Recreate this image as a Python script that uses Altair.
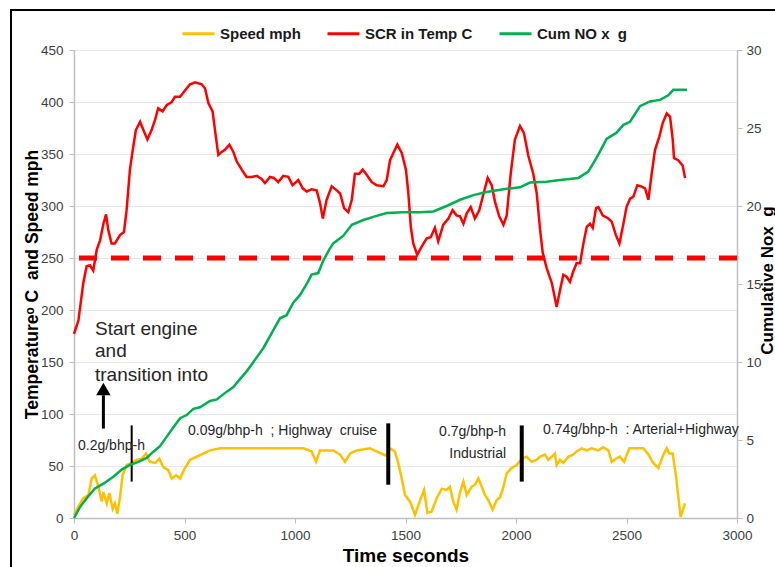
import altair as alt
import pandas as pd

# ---------------- data ----------------
speed_t = [0, 20, 42, 65, 80, 95, 110, 125, 133, 148, 160, 175, 185, 196, 208, 220, 238, 261, 284, 306,
           326, 344, 367, 386, 404, 427, 442, 462, 480, 502, 525, 555, 585, 615, 661, 736, 827, 917, 1038,
           1075, 1095, 1113, 1173, 1204, 1226, 1249, 1279, 1339, 1392, 1412, 1430, 1452, 1467, 1483, 1498,
           1520, 1543, 1566, 1584, 1599, 1618, 1641, 1664, 1686, 1701, 1716, 1731, 1747, 1762, 1777, 1799,
           1814, 1830, 1845, 1860, 1875, 1894, 1912, 1928, 1943, 1958, 1980, 2003, 2026, 2048, 2071, 2094,
           2109, 2131, 2146, 2162, 2176, 2184, 2199, 2214, 2237, 2259, 2274, 2297, 2320, 2342, 2373, 2395,
           2418, 2433, 2452, 2470, 2489, 2513, 2546, 2576, 2599, 2621, 2644, 2667, 2682, 2694, 2709, 2724,
           2734, 2745, 2757, 2765]
speed_v = [3, 11, 19, 22, 38, 41, 30, 16, 25, 14, 24, 9, 14, 4, 20, 41, 51, 53, 56, 57,
           62, 54, 53, 57, 49, 46, 38, 41, 38, 48, 56, 59, 62, 65, 67, 67, 67, 67, 67,
           64, 54, 65, 65, 61, 54, 62, 65, 67, 62, 60, 67, 64, 53, 38, 22,
           16, 3, 17, 27, 5, 6, 19, 28, 27, 30, 16, 8, 25, 35, 22, 30,
           32, 38, 30, 22, 17, 8, 17, 20, 30, 43, 48, 51, 57, 59, 54, 56,
           59, 61, 56, 59, 62, 51, 56, 53, 59, 61, 64, 67, 65, 67, 65, 68,
           65, 54, 57, 59, 54, 67, 67, 67, 61, 53, 48, 61, 67, 62, 62, 40,
           21, 1, 9, 14]

temp_t = [0, 20, 42, 57, 72, 87, 103, 118, 133, 145, 155, 170, 185, 208, 226, 238, 253, 268, 280, 299,
          314, 332, 351, 367, 381, 401, 419, 442, 457, 480, 502, 525, 548, 578, 593, 608, 627, 638, 653,
          668, 683, 703, 721, 736, 759, 781, 804, 827, 849, 864, 887, 905, 924, 947, 970, 989, 1015, 1035,
          1053, 1075, 1098, 1113, 1126, 1143, 1166, 1189, 1204, 1222, 1241, 1257, 1271, 1291, 1306, 1324,
          1347, 1370, 1400, 1415, 1430, 1445, 1463, 1483, 1502, 1513, 1524, 1535, 1553, 1573, 1596, 1614,
          1633, 1648, 1671, 1694, 1713, 1731, 1747, 1762, 1777, 1795, 1814, 1834, 1852, 1872, 1890, 1905,
          1924, 1943, 1958, 1976, 1995, 2018, 2036, 2056, 2078, 2094, 2109, 2121, 2139, 2162, 2184, 2199,
          2214, 2229, 2244, 2259, 2274, 2290, 2305, 2320, 2335, 2347, 2362, 2373, 2392, 2418, 2433, 2452,
          2468, 2486, 2500, 2516, 2531, 2549, 2564, 2584, 2599, 2614, 2629, 2649, 2664, 2682, 2697, 2709,
          2715, 2734, 2754, 2765]
temp_v = [177, 190, 226, 242, 243, 238, 258, 267, 283, 292, 277, 264, 264, 272, 275, 296, 335, 357, 373, 381,
          373, 364, 373, 383, 394, 391, 397, 400, 405, 405, 411, 417, 419, 417, 413, 399, 391, 373, 349,
          352, 354, 359, 352, 343, 335, 328, 328, 329, 326, 322, 328, 327, 323, 329, 328, 320, 325, 317,
          314, 316, 315, 303, 288, 306, 319, 315, 312, 298, 294, 306, 331, 331, 335, 330,
          323, 320, 319, 325, 344, 351, 359, 351, 335, 312, 280, 264, 253, 261, 269, 270,
          279, 266, 282, 288, 296, 291, 290, 283, 293, 299, 288, 296, 311, 327, 320, 304,
          290, 282, 291, 331, 364, 377, 370, 348, 331, 312, 277, 255, 240, 226, 203, 219,
          234, 232, 227, 237, 245, 245, 264, 280, 283, 279, 298, 299, 291, 288, 285, 272,
          264, 283, 299, 307, 309, 320, 319, 317, 306, 331, 354, 367, 380, 389, 386, 364,
          346, 344, 339, 327]

nox_t = [0, 27, 65, 95, 133, 178, 216, 253, 291, 329, 359, 389, 419, 449, 480, 510, 540, 570, 615, 646,
         691, 721, 751, 781, 812, 842, 857, 902, 932, 962, 992, 1023, 1053, 1075, 1105, 1128, 1155, 1173,
         1219, 1257, 1309, 1354, 1415, 1490, 1566, 1626, 1686, 1747, 1807, 1867, 1958, 2018, 2063, 2139,
         2191, 2282, 2327, 2365, 2410, 2455, 2486, 2516, 2561, 2606, 2652, 2689, 2712, 2774]
nox_v = [0, 0.7, 1.4, 1.9, 2.2, 2.65, 3.1, 3.4, 3.6, 3.85, 4.25, 4.6, 5.2, 5.8, 6.4, 6.6, 7.0, 7.1, 7.5, 7.6,
         8.1, 8.4, 8.9, 9.4, 10.0, 10.6, 10.9, 12.05, 12.8, 13.0, 13.8, 14.3, 15.0, 15.6, 15.7, 16.5, 17.2, 17.6,
         18.1, 18.8, 19.1, 19.3, 19.55, 19.6, 19.6, 19.65, 20.0, 20.4, 20.7, 20.9, 21.1, 21.2, 21.5, 21.55,
         21.65, 21.8, 22.2, 23.1, 24.3, 24.7, 25.2, 25.4, 26.4, 26.7, 26.8, 27.1, 27.45, 27.45]

NB = "\u00a0"
series_names = ["Speed mph", "SCR in Temp C", "Cum NO x" + NB + " g"]
series_colors = ["#FFC000", "#FF0000", "#00B050"]

threshold_temp = [250]

bar_t = [261, 1422, 2026]
bar_lo = [35, 32, 35]
bar_hi = [89, 91, 89]
bar_w = [2, 4, 4]

note_left_text = ["0.2g/bhp-h", "0.09g/bhp-h" + NB + " ; Highway" + NB + " cruise",
                  "0.74g/bhp-h" + NB + " : Arterial+Highway"]
note_left_t = [18, 516, 2122]
note_left_v = [69, 84, 85]

note_right_text = ["0.7g/bhp-h", "Industrial"]
note_right_t = [1955, 1955]
note_right_v = [83, 62]

start_text = ["Start engine", "and", "transition into"]
start_t = [95, 95, 95]
start_v = [176, 155, 132]

arrow_t = [133]
arrow_lo = [86]
arrow_hi = [118]
arrow_head = [124]

# ---------------- tables ----------------
speed_df = pd.DataFrame({"t": speed_t, "v": speed_v, "series": series_names[0]})
temp_df = pd.DataFrame({"t": temp_t, "v": temp_v, "series": series_names[1]})
nox_df = pd.DataFrame({"t": nox_t, "v": nox_v, "series": series_names[2]})
thr_df = pd.DataFrame({"v": threshold_temp})
bar_df = pd.DataFrame({"t": bar_t, "v": bar_lo, "v2": bar_hi, "w": bar_w})
noteL_df = pd.DataFrame({"t": note_left_t, "v": note_left_v, "txt": note_left_text})
noteR_df = pd.DataFrame({"t": note_right_t, "v": note_right_v, "txt": note_right_text})
start_df = pd.DataFrame({"t": start_t, "v": start_v, "txt": start_text})
arrow_df = pd.DataFrame({"t": arrow_t, "v": arrow_lo, "v2": arrow_hi, "h": arrow_head})

FONT = "Liberation Sans, Arial, sans-serif"
TITLE_FONT = "Liberation Sans, Arial, sans-serif"
LEFT_TITLE = "Temperature\u1d52 C" + NB + " and Speed mph"
RIGHT_TITLE = "Cumulative Nox" + NB + " g"

x_axis = alt.Axis(values=[0, 500, 1000, 1500, 2000, 2500, 3000], format="d", grid=False,
                  title="Time seconds", titleFontSize=19, titleFontWeight="bold", titleFont=TITLE_FONT,
                  titleColor="#000000", titleY=43, titleBaseline="alphabetic",
                  domainColor="#bfbfbf", domainWidth=1.5, tickColor="#bfbfbf", tickSize=5,
                  labelFont=FONT, labelFontSize=13.5, labelColor="#404040", labelPadding=5,
                  labelFlush=False, labelOverlap=False)
left_axis = alt.Axis(values=list(range(0, 451, 50)), format="d", grid=True, gridColor="#e8e8e8",
                     title=LEFT_TITLE, titleFontSize=17.5, titleFontWeight="bold", titleFont=TITLE_FONT,
                     titleColor="#000000", titleX=-37, titleY=234, titleAlign="center",
                     titleBaseline="alphabetic", titleAngle=270,
                     domainColor="#bfbfbf", domainWidth=1.5, tickColor="#bfbfbf", tickSize=5,
                     labelFont=FONT, labelFontSize=13.5, labelColor="#404040", labelPadding=6,
                     labelFlush=False, labelOverlap=False)
right_axis = alt.Axis(orient="right", values=[0, 5, 10, 15, 20, 25, 30], format="d", grid=False,
                      title=RIGHT_TITLE, titleFontSize=17, titleFontWeight="bold",
                      titleFont=TITLE_FONT, titleColor="#000000", titleX=35, titleY=230,
                      titleAlign="center", titleBaseline="alphabetic", titleAngle=270,
                      domainColor="#bfbfbf", domainWidth=1.5, tickColor="#bfbfbf", tickSize=5,
                      labelFont=FONT, labelFontSize=13.5, labelColor="#404040", labelPadding=4,
                      labelFlush=False, labelOverlap=False)

xs = alt.Scale(domain=[0, 3000], nice=False)
ls = alt.Scale(domain=[0, 450], nice=False)
rs = alt.Scale(domain=[0, 30], nice=False)


def X():
    return alt.X("t:Q", scale=xs, axis=x_axis, title="Time seconds")


def YL(field="v"):
    return alt.Y(f"{field}:Q", scale=ls, axis=left_axis, title=LEFT_TITLE)


color = alt.Color("series:N", scale=alt.Scale(domain=series_names, range=series_colors),
                  legend=alt.Legend(orient="none", legendX=107, legendY=-34, direction="horizontal",
                                    title=None, symbolType="stroke", symbolSize=1024,
                                    symbolStrokeWidth=3, labelFont=TITLE_FONT,
                                    labelFontSize=15, labelFontWeight="bold", labelColor="#1a1a1a",
                                    labelOffset=4, columnPadding=20, labelLimit=0))

thr = alt.Chart(thr_df).mark_rule(color="#FF0000", strokeWidth=5, strokeDash=[18, 14]).encode(y=YL())
speed = alt.Chart(speed_df).mark_line(strokeWidth=2.5).encode(x=X(), y=YL(), color=color)
temp = alt.Chart(temp_df).mark_line(strokeWidth=2.5).encode(x=X(), y=YL(), color=color)
bars = alt.Chart(bar_df).mark_rule(color="#000000").encode(
    x=X(), y=YL(), y2="v2:Q", strokeWidth=alt.StrokeWidth("w:Q", scale=None))
shaft = alt.Chart(arrow_df).mark_rule(color="#000000", strokeWidth=3).encode(x=X(), y=YL(), y2="v2:Q")
head = alt.Chart(arrow_df).mark_point(shape="triangle-up", filled=True, color="#000000", size=210,
                                      opacity=1).encode(x=X(), y=YL("h"))
notesL = alt.Chart(noteL_df).mark_text(font=FONT, fontSize=14, color="#262626", baseline="middle",
                                       align="left").encode(x=X(), y=YL(), text="txt:N")
notesR = alt.Chart(noteR_df).mark_text(font=FONT, fontSize=14, color="#262626", baseline="middle",
                                       align="right").encode(x=X(), y=YL(), text="txt:N")
start = alt.Chart(start_df).mark_text(font=FONT, fontSize=19, color="#262626", baseline="alphabetic",
                                      align="left").encode(x=X(), y=YL(), text="txt:N")
frame = alt.Chart(pd.DataFrame({"k": [0]})).mark_rect(fill=None, stroke="#000000", strokeWidth=2).encode(
    x=alt.value(-63), x2=alt.value(760), y=alt.value(-40), y2=alt.value(560))

left_group = alt.layer(thr, speed, temp, bars, shaft, head, notesL, notesR, start, frame)

nox = alt.Chart(nox_df).mark_line(strokeWidth=2.5).encode(
    x=X(), y=alt.Y("v:Q", scale=rs, axis=right_axis, title=RIGHT_TITLE), color=color)

chart = alt.layer(left_group, nox).resolve_scale(y="independent").properties(
    width=663, height=468,
    background="#ffffff",
    autosize=alt.AutoSizeParams(type="none"),
    padding={"left": 74, "top": 50, "right": 38, "bottom": 49},
).configure_view(stroke=None)

chart.save("out.html", embed_options={"renderer": "svg", "actions": False})
